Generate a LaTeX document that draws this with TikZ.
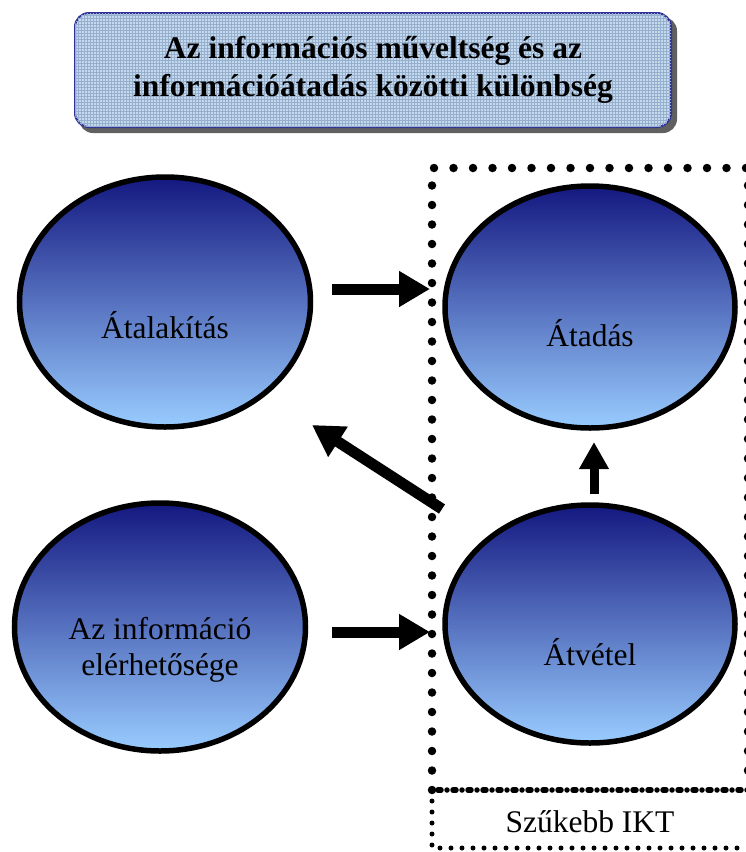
\documentclass[tikz,border=0pt]{standalone}
\usepackage{fontspec}
\setmainfont{Liberation Serif}
\usetikzlibrary{arrows.meta,shapes.geometric,patterns}

\definecolor{navy}{RGB}{20,24,128}
\definecolor{skyblue}{RGB}{153,204,255}
\definecolor{midblue}{RGB}{100,134,200}
\definecolor{titlefill}{RGB}{196,216,238}
\definecolor{titlegrid}{RGB}{150,175,205}
\definecolor{titleedge}{RGB}{48,48,150}

\tikzset{
  titlebox/.style={draw=titleedge, line width=2pt, rounded corners=14pt,
    fill=titlefill, postaction={pattern=grid, pattern color=titlegrid},
    minimum width=596pt, minimum height=114pt, align=center,
    font=\fontsize{31.5}{38}\selectfont\bfseries},
  bubble/.style={ellipse, draw=black, line width=5.5pt,
    top color=navy, middle color=midblue, bottom color=skyblue,
    inner sep=0pt},
  labeltext/.style={font=\fontsize{31.5}{36}\selectfont, align=center},
  bigarrow/.style={line width=11pt, -{Triangle[length=31pt,width=34pt]}},
  uparrow/.style={line width=9pt, -{Triangle[length=27pt,width=28pt]}},
  bigdots/.style={line width=8.5pt, line cap=round, dash pattern=on 0pt off 19.5pt},
  smalldots/.style={line width=5pt, line cap=round, dash pattern=on 0pt off 11pt},
  dividerdots/.style={line width=5.5pt, line cap=round, dash pattern=on 0pt off 6pt on 3pt off 6pt},
}

\begin{document}
\begin{tikzpicture}[x=1pt,y=-1pt]
  \useasboundingbox (0,0) rectangle (746,852);
  \fill[white] (0,0) rectangle (746,852);

  % title with its shadow
  \fill[gray!75!black, rounded corners=14pt] (79,17) rectangle (677,133);
  \node[titlebox] (title) at (373,70)
    {Az információs műveltség és az\\információátadás közötti különbség};

  % the narrower ICT area
  \coordinate (ikttl) at (432,168);
  \coordinate (ikttr) at (748,168);
  \coordinate (iktml) at (432,790);
  \coordinate (iktmr) at (748,790);
  \coordinate (iktbl) at (432,848);
  \coordinate (iktbr) at (748,848);
  \draw[bigdots] (iktml) -- (ikttl) -- (ikttr) -- (iktmr);
  \draw[smalldots] (iktml) -- (iktbl) -- (iktbr);
  \draw[dividerdots] (iktml) -- (iktmr);
  \node[labeltext] (ikt) at (590,822) {Szűkebb IKT};

  % the four stages
  \node[bubble, minimum width=291pt, minimum height=250pt,
        label={[labeltext, yshift=-23pt]center:Átalakítás}] (atal) at (165,302) {};
  \node[bubble, minimum width=291pt, minimum height=248pt,
        label={[labeltext, yshift=-23pt]center:Az információ\\elérhetősége}] (elerh) at (160,627) {};
  \node[bubble, minimum width=290pt, minimum height=242pt,
        label={[labeltext, yshift=-26pt]center:Átadás}] (atad) at (590,307) {};
  \node[bubble, minimum width=290pt, minimum height=238pt,
        label={[labeltext, yshift=-28pt]center:Átvétel}] (atvet) at (590,624) {};

  % flow arrows
  \coordinate (a1s) at (332,289);
  \coordinate (a1e) at (430,289);
  \coordinate (a2s) at (332,632);
  \coordinate (a2e) at (430,632);
  \coordinate (a3s) at (442,509);
  \coordinate (a3e) at (312,425);
  \coordinate (a4s) at (594,494);
  \coordinate (a4e) at (594,442);
  \draw[bigarrow] (a1s) -- (a1e);
  \draw[bigarrow] (a2s) -- (a2e);
  \draw[bigarrow] (a3s) -- (a3e);
  \draw[uparrow] (a4s) -- (a4e);
\end{tikzpicture}
\end{document}
